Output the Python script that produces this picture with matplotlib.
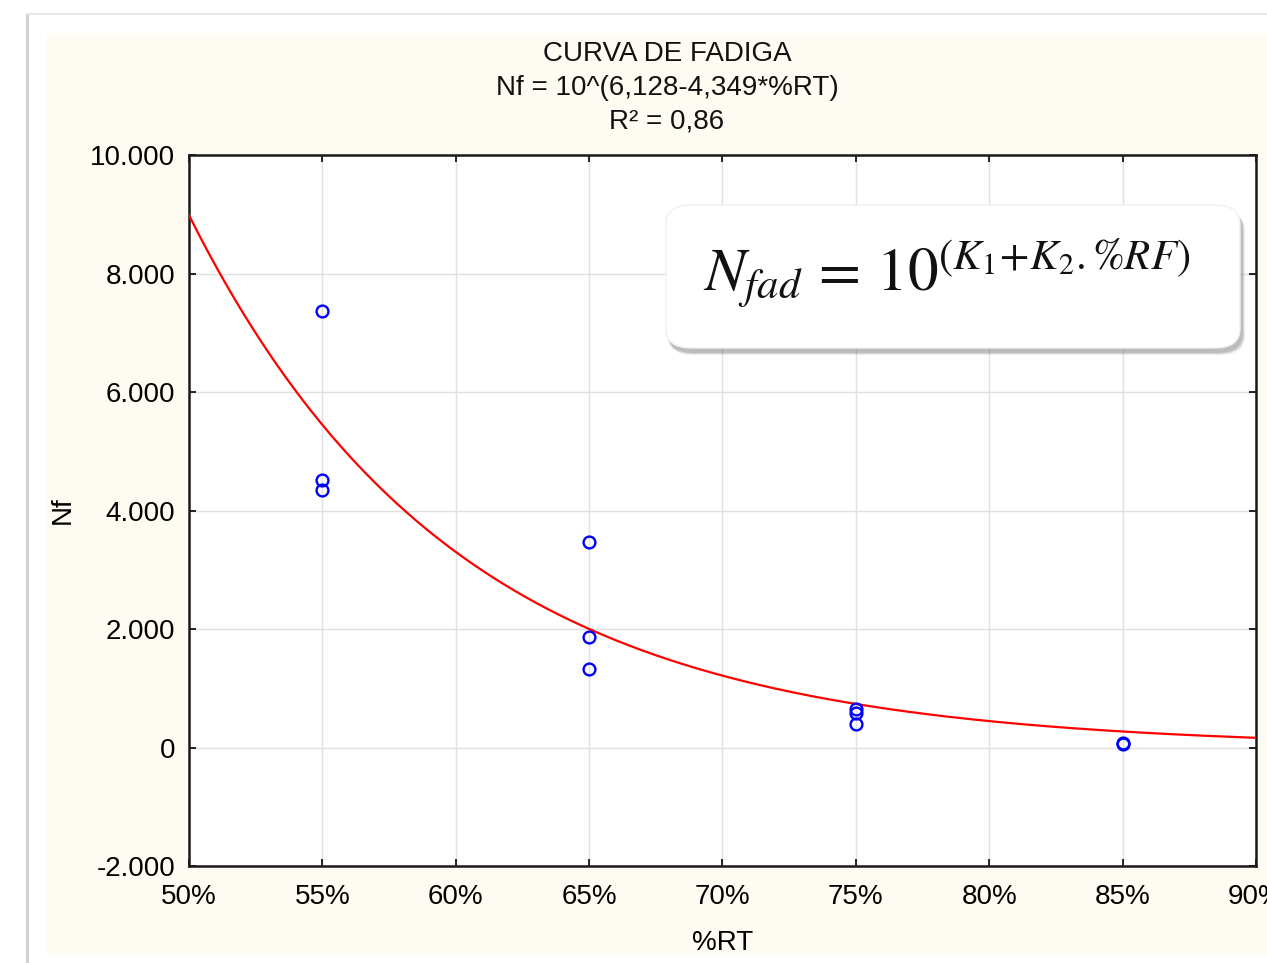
import numpy as np
import matplotlib.pyplot as plt
from matplotlib.patches import FancyBboxPatch, Rectangle
from matplotlib.ticker import FuncFormatter, MultipleLocator

plt.rcParams['font.family'] = ['Liberation Sans', 'DejaVu Sans']
plt.rcParams['mathtext.fontset'] = 'stix'

# fatigue tests: stress level (%RT) vs cycles to failure
rt_55 = [0.55, 0.55, 0.55]
nf_55 = [7360, 4520, 4340]
rt_65 = [0.65, 0.65, 0.65]
nf_65 = [3460, 1870, 1330]
rt_75 = [0.75, 0.75, 0.75]
nf_75 = [650, 590, 400]
rt_85 = [0.85, 0.85]
nf_85 = [80, 55]

k1 = 6.128
k2 = -4.349

rt = rt_55 + rt_65 + rt_75 + rt_85
nf = nf_55 + nf_65 + nf_75 + nf_85

W, H = 1267, 963
fig = plt.figure(figsize=(W / 100, H / 100), dpi=100)
fig.patch.set_facecolor('white')

# page frame and cream panel behind the chart
fig.add_artist(Rectangle((26 / W, 0), 3 / W, 1 - 14 / H, transform=fig.transFigure,
                         facecolor='#d0d0d0', edgecolor='none', zorder=-3))
fig.add_artist(Rectangle((26 / W, 1 - 15 / H), 1, 1.5 / H, transform=fig.transFigure,
                         facecolor='#e6e6e6', edgecolor='none', zorder=-3))
fig.add_artist(Rectangle((47 / W, 8 / H), 1, 1 - 41 / H, transform=fig.transFigure,
                         facecolor='#fefcf2', edgecolor='none', zorder=-2))

ax = fig.add_axes([189 / W, 1 - 866 / H, (1256 - 189) / W, (866 - 155) / H])
ax.set_facecolor('white')

xs = np.linspace(0.5, 0.9, 300)
ax.plot(xs, 10 ** (k1 + k2 * xs), color='red', lw=1.6, zorder=3)
ax.plot(rt, nf, 'o', ms=8.5, mfc='none', mec='blue', mew=1.7, zorder=4)

ax.set_xlim(0.5, 0.9)
ax.set_ylim(-2000, 10000)
ax.xaxis.set_major_locator(MultipleLocator(0.05))
ax.yaxis.set_major_locator(MultipleLocator(2000))
ax.xaxis.set_major_formatter(FuncFormatter(lambda v, p: f"{v * 100:.0f}%"))
ax.yaxis.set_major_formatter(FuncFormatter(lambda v, p: f"{v:,.0f}".replace(',', '.')))
ax.grid(True, color='#e0e0e0', lw=1.0)
ax.set_axisbelow(True)
ax.tick_params(direction='in', length=5, width=1.2, labelsize=20,
               top=True, right=True)
ax.tick_params(axis='x', pad=13)
ax.tick_params(axis='y', pad=10)
for s in ax.spines.values():
    s.set_linewidth(1.8)
    s.set_color('#1a1a1a')

ax.set_xlabel('%RT', fontsize=20, labelpad=14)
ax.set_ylabel('Nf', fontsize=20, labelpad=10)
fig.text(667 / W, 1 - 88 / H, 'CURVA DE FADIGA\nNf = 10^(6,128-4,349*%RT)\nR² = 0,86',
         ha='center', va='center', fontsize=20, linespacing=1.4, color='#111111')

# model equation box with drop shadow
bx, by, bw, bh = 666 / W, 1 - 348 / H, (1240 - 666) / W, (348 - 205) / H
for i, a in enumerate([0.12, 0.18, 0.25]):
    d = 3 - i
    fig.add_artist(FancyBboxPatch((bx + 2 / W, by - (4 + d) / H), bw + d / W, bh,
                                  transform=fig.transFigure,
                                  boxstyle="round,pad=0,rounding_size=0.02",
                                  facecolor='#707070', edgecolor='none', alpha=a, zorder=5))
box = FancyBboxPatch((bx, by), bw, bh, transform=fig.transFigure,
                     boxstyle="round,pad=0,rounding_size=0.02",
                     facecolor='white', edgecolor='#f0f0f0', zorder=6)
fig.add_artist(box)
fig.text(bx + bw / 2 - 6 / W, by + bh / 2 + 3 / H, r'$N_{fad}\,=\,10^{(K_1\!+\!K_2.\%RF)}$',
         ha='center', va='center', fontsize=44, color='#111111', zorder=7)

fig.savefig('out.png', dpi=100)
